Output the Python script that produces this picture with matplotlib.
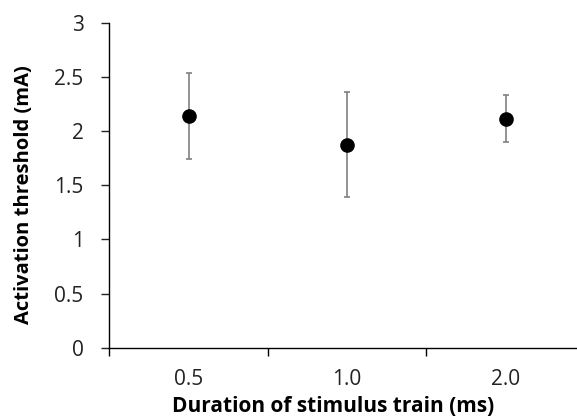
import numpy as np
import matplotlib.pyplot as plt
from matplotlib.ticker import FixedLocator, NullFormatter

plt.rcParams['font.family'] = ['Open Sans', 'DejaVu Sans']

durations = ["0.5", "1.0", "2.0"]
threshold = [2.14, 1.87, 2.11]
err_low = [1.74, 1.39, 1.90]
err_high = [2.54, 2.36, 2.33]

W, H = 577, 420
fig = plt.figure(figsize=(W / 100, H / 100), dpi=100)
x0, x1 = 109.3, 577.0
y0, y1 = 347.7, 22.7
ax = fig.add_axes([x0 / W, 1 - y0 / H, (x1 - x0) / W, (y0 - y1) / H])

xs = np.arange(len(durations)) + 0.5
vals = np.array(threshold)
yerr = [vals - np.array(err_low), np.array(err_high) - vals]
ax.errorbar(xs, vals, yerr=yerr, fmt='none', ecolor='#808080',
            elinewidth=1.2, capsize=2.5, capthick=1.2, zorder=2)
ax.plot(xs, vals, 'o', color='black', markersize=9.5, zorder=3)

ax.set_ylim(0, 3)
ax.set_xlim(0, (x1 - x0) / 158.5)
ax.set_yticks(np.arange(0, 3.01, 0.5))
ax.set_yticklabels(['0', '0.5', '1', '1.5', '2', '2.5', '3'])
ax.xaxis.set_major_locator(FixedLocator([0, 1, 2]))
ax.xaxis.set_major_formatter(NullFormatter())
ax.xaxis.set_minor_locator(FixedLocator(xs))
ax.set_xticklabels(durations, minor=True)

ax.spines['top'].set_visible(False)
ax.spines['right'].set_visible(False)
for s in ['left', 'bottom']:
    ax.spines[s].set_linewidth(1.0)
ax.tick_params(axis='y', direction='out', length=5.5, width=1.0, pad=13,
               labelsize=15, colors='#222222')
ax.tick_params(axis='x', which='major', direction='out', length=5.5, width=1.0)
ax.tick_params(axis='x', which='minor', length=0, pad=15, labelsize=15,
               colors='#222222')

ax.set_ylabel('Activation threshold (mA)', fontsize=14.5, fontweight='bold')
ax.yaxis.set_label_coords(-(x0 - 24) / (x1 - x0), (y0 - 195) / (y0 - y1))
ax.set_xlabel('Duration of stimulus train (ms)', fontsize=15, fontweight='bold')
ax.xaxis.set_label_coords((333.5 - x0) / (x1 - x0), -(407 - y0) / (y0 - y1))
ax.xaxis.label.set_va('center')
ax.yaxis.label.set_va('center')

fig.savefig('out.png', dpi=100)
